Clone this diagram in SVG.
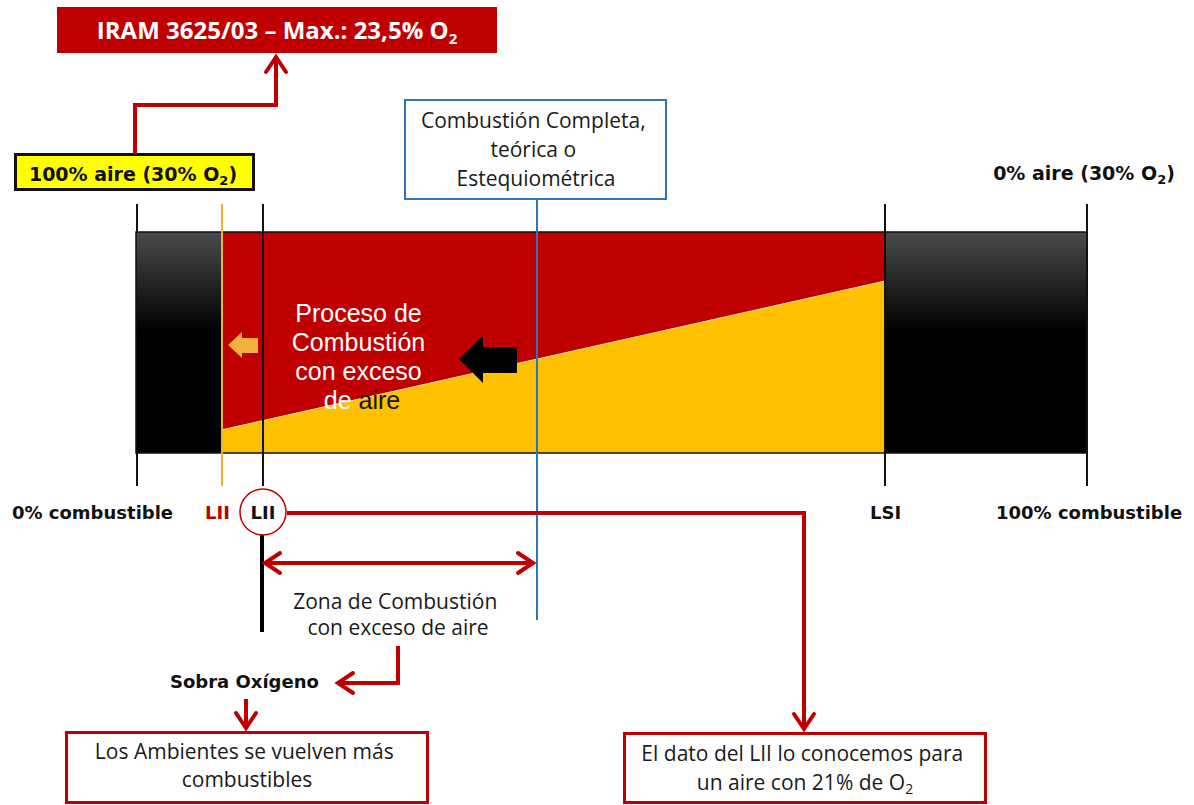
<svg xmlns="http://www.w3.org/2000/svg" width="1194" height="805" viewBox="0 0 1194 805">
<style>
.cal{font-family:"Open Sans","Liberation Sans",sans-serif;fill:#1a1a1a}
.vb{font-family:"DejaVu Sans","Liberation Sans",sans-serif;font-weight:bold;font-size:18px;fill:#111}
.red{stroke:#c00000;stroke-width:4;fill:none;stroke-linejoin:miter}
.tick{stroke:#111;stroke-width:2}
</style>
<defs>
<linearGradient id="blk" x1="0" y1="0" x2="0" y2="1">
<stop offset="0" stop-color="#4a4a4a"/>
<stop offset="0.45" stop-color="#000"/>
<stop offset="1" stop-color="#000"/>
</linearGradient>
<marker id="chev" markerUnits="userSpaceOnUse" markerWidth="30" markerHeight="30" viewBox="-20 -15 30 30" refX="0" refY="0" orient="auto-start-reverse">
<path d="M -15 -10 L 0 0 L -15 10" fill="none" stroke="#c00000" stroke-width="4" stroke-linecap="round" stroke-linejoin="miter"/>
</marker>
</defs>

<g id="bar">
<rect x="136" y="232" width="85" height="221" fill="url(#blk)"/>
<rect x="221" y="232" width="664" height="221" fill="#c00000"/>
<polygon points="221,430 885,281 885,453 221,453" fill="#ffc000"/>
<line x1="221" y1="430" x2="885" y2="281" stroke="#f3e0c0" stroke-width="1"/>
<rect x="885" y="232" width="202" height="221" fill="url(#blk)"/>
<rect x="136" y="232" width="951" height="221" fill="none" stroke="#111" stroke-width="1.5"/>
<polygon points="228,345 242,332 242,338 258,338 258,353 242,353 242,358" fill="#f5b13d"/>
<polygon points="459,359 483,336 483,347 517,347 517,373 483,373 483,383" fill="#000"/>
<text font-family="Liberation Sans, Arial, sans-serif" font-size="25" text-anchor="middle" fill="#fff">
<tspan x="362" y="322">Proceso de</tspan>
<tspan x="362" y="351">Combustión</tspan>
<tspan x="362" y="380">con exceso</tspan>
<tspan x="362" y="409">de <tspan fill="#111">aire</tspan></tspan>
</text>
</g>

<g id="ticks">
<line class="tick" x1="137" y1="204" x2="137" y2="232"/>
<line class="tick" x1="137" y1="453" x2="137" y2="486"/>
<line x1="222" y1="204" x2="222" y2="486" stroke="#f0b030" stroke-width="2"/>
<line class="tick" x1="263" y1="204" x2="263" y2="486"/>
<line class="tick" x1="885" y1="204" x2="885" y2="486"/>
<line class="tick" x1="1087" y1="204" x2="1087" y2="486"/>
<line x1="262" y1="531" x2="262" y2="632" stroke="#000" stroke-width="4"/>
<line x1="537" y1="200" x2="537" y2="620" stroke="#2e75b6" stroke-width="2"/>
</g>

<g id="iram">
<rect x="57" y="7" width="440" height="46" fill="#c00000"/>
<text x="277" y="39" font-family="Open Sans, Liberation Sans, sans-serif" font-weight="bold" font-size="24" fill="#fff" text-anchor="middle">IRAM 3625/03 – Max.: 23,5% O<tspan font-size="15" dy="5">2</tspan></text>
</g>

<g id="aire100">
<rect x="15.5" y="154.5" width="238" height="35" fill="#ffff00" stroke="#111" stroke-width="3"/>
<text class="vb" x="133" y="181" style="font-size:19px" text-anchor="middle">100% aire (30% O<tspan font-size="13" dy="4">2</tspan><tspan dy="-4">)</tspan></text>
</g>

<g id="aire0">
<text class="vb" x="1084" y="180" style="font-size:19px" text-anchor="middle">0% aire (30% O<tspan font-size="13" dy="4">2</tspan><tspan dy="-4">)</tspan></text>
</g>

<g id="completa">
<rect x="405" y="100" width="261" height="99" fill="#fff" stroke="#2e75b6" stroke-width="2"/>
<text class="cal" font-size="21" text-anchor="middle">
<tspan x="536" y="128">Combustión Completa,</tspan>
<tspan x="536" y="157">teórica o</tspan>
<tspan x="536" y="186">Estequiométrica</tspan>
</text>
</g>

<g id="labels">
<text class="vb" x="12" y="519">0% combustible</text>
<text class="vb" x="205" y="519" style="fill:#c00000">LII</text>
<circle cx="263" cy="512" r="23" fill="#fff" stroke="#c00000" stroke-width="1.5"/>
<text class="vb" x="263" y="519" text-anchor="middle">LII</text>
<text class="vb" x="870" y="519">LSI</text>
<text class="vb" x="996" y="519">100% combustible</text>
</g>

<g id="zona">
<text class="cal" font-size="21" text-anchor="middle">
<tspan x="398" y="609">Zona de Combustión</tspan>
<tspan x="398" y="635">con exceso de aire</tspan>
</text>
</g>

<g id="sobra">
<text class="vb" x="170" y="688">Sobra Oxígeno</text>
</g>

<g id="ambientes">
<rect x="66.5" y="732.5" width="361" height="70" fill="#fff" stroke="#c00000" stroke-width="3"/>
<text class="cal" font-size="21" text-anchor="middle">
<tspan x="247" y="759">Los Ambientes se vuelven más</tspan>
<tspan x="247" y="787">combustibles</tspan>
</text>
</g>

<g id="dato">
<rect x="624.5" y="733.5" width="361" height="69" fill="#fff" stroke="#c00000" stroke-width="3"/>
<text class="cal" font-size="21" text-anchor="middle">
<tspan x="805" y="761">El dato del LII lo conocemos para</tspan>
<tspan x="805" y="790">un aire con 21% de O<tspan font-size="14" dy="4">2</tspan></tspan>
</text>
</g>

<g id="connectors">
<polyline class="red" points="135,154 135,105 276,105 276,57" marker-end="url(#chev)"/>
<polyline class="red" points="287,513 804,513 804,729" marker-end="url(#chev)"/>
<line class="red" x1="265" y1="563" x2="533" y2="563" marker-start="url(#chev)" marker-end="url(#chev)"/>
<polyline class="red" points="398,646 398,683 338,683" marker-end="url(#chev)"/>
<line class="red" x1="246" y1="699" x2="246" y2="728" marker-end="url(#chev)"/>
</g>
</svg>
